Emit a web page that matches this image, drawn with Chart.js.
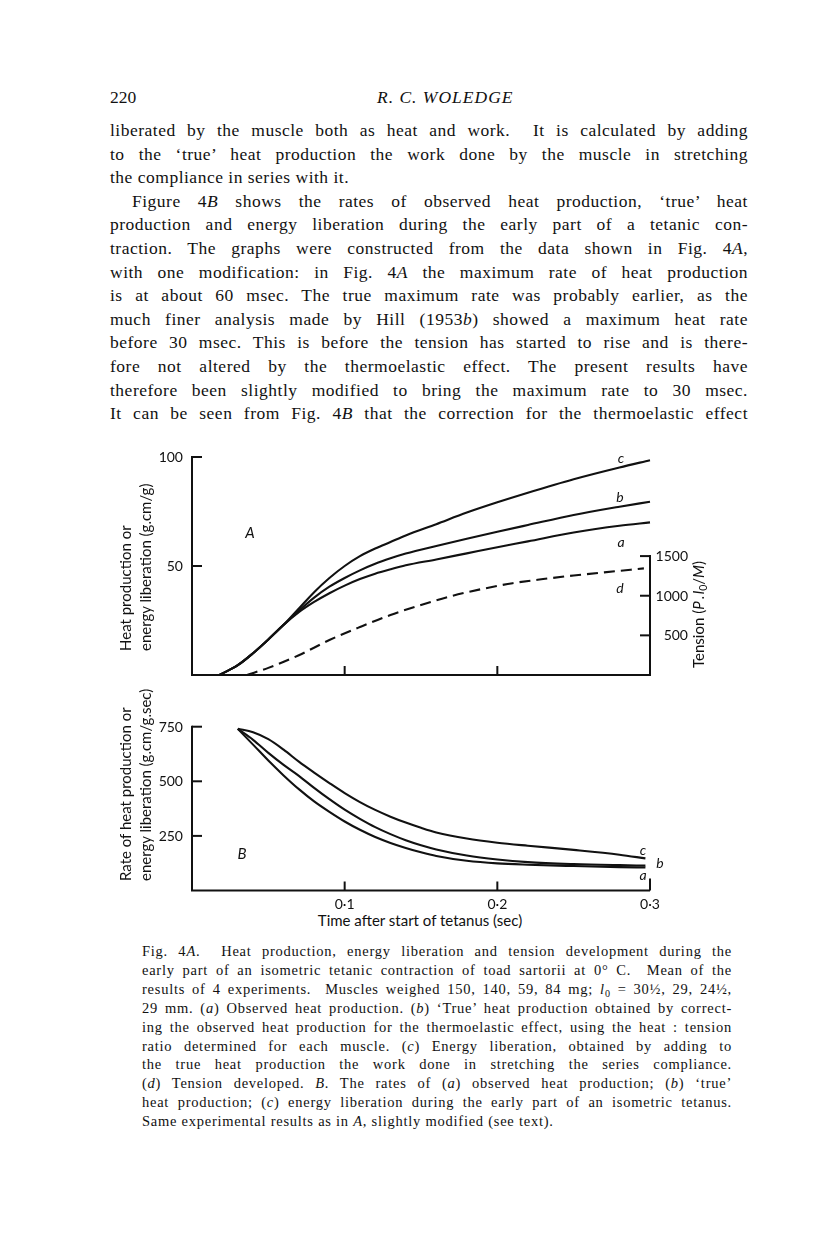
<!DOCTYPE html>
<html><head><meta charset="utf-8">
<script src="https://cdn.jsdelivr.net/npm/chart.js@4.4.0/dist/chart.umd.min.js"></script>
<style>
html,body{margin:0;padding:0;background:#fff;}
body{width:816px;height:1249px;position:relative;overflow:hidden;color:#111;}
.t{position:absolute;font-family:"Liberation Serif",serif;font-size:17.5px;line-height:24px;white-space:nowrap;}
.j{position:absolute;left:110px;width:638px;font-family:"Liberation Serif",serif;font-size:17.5px;letter-spacing:0.5px;line-height:24px;text-align:justify;text-align-last:justify;}
.jl{text-align:left;text-align-last:left;}
.cap{position:absolute;left:142px;width:590px;font-family:"Liberation Serif",serif;font-size:14.5px;letter-spacing:0.75px;line-height:19px;text-align:justify;text-align-last:justify;}
.s{position:absolute;font-family:Lato,"Open Sans",sans-serif;font-size:15px;line-height:18px;white-space:nowrap;}
.n{position:absolute;font-family:Lato,"Open Sans",sans-serif;font-size:14px;line-height:16px;white-space:nowrap;}
.lab{position:absolute;font-family:Lato,"Open Sans",sans-serif;font-size:14px;line-height:16px;font-style:italic;white-space:nowrap;}
.rot{transform:rotate(-90deg);transform-origin:0 0;line-height:20px;}
sub{font-size:0.7em;line-height:0;vertical-align:-0.25em;}
canvas{position:absolute;left:0;}
</style>
</head>
<body>
<div class="t" style="left:110px;top:85px;">220</div>
<div class="t" style="left:377px;top:85px;font-style:italic;letter-spacing:1px;">R. C. WOLEDGE</div>

<div class="j" style="top:118px;">liberated by the muscle both as heat and work.&nbsp; It is calculated by adding</div>
<div class="j" style="top:141.6px;">to the ‘true’ heat production the work done by the muscle in stretching</div>
<div class="j jl" style="top:165.2px;">the compliance in series with it.</div>
<div class="j" style="top:188.8px;text-indent:22px;">Figure 4<i>B</i> shows the rates of observed heat production, ‘true’ heat</div>
<div class="j" style="top:212.4px;">production and energy liberation during the early part of a tetanic con-</div>
<div class="j" style="top:236px;">traction. The graphs were constructed from the data shown in Fig. 4<i>A</i>,</div>
<div class="j" style="top:259.6px;">with one modification: in Fig. 4<i>A</i> the maximum rate of heat production</div>
<div class="j" style="top:283.2px;">is at about 60 msec. The true maximum rate was probably earlier, as the</div>
<div class="j" style="top:306.8px;">much finer analysis made by Hill (1953<i>b</i>) showed a maximum heat rate</div>
<div class="j" style="top:330.4px;">before 30 msec. This is before the tension has started to rise and is there-</div>
<div class="j" style="top:354px;">fore not altered by the thermoelastic effect. The present results have</div>
<div class="j" style="top:377.6px;">therefore been slightly modified to bring the maximum rate to 30 msec.</div>
<div class="j" style="top:401.2px;">It can be seen from Fig. 4<i>B</i> that the correction for the thermoelastic effect</div>

<canvas id="cA" width="816" height="250" style="top:440px;"></canvas>
<canvas id="cB" width="816" height="210" style="top:700px;"></canvas>

<div class="s rot" style="left:115px;top:651px;">Heat production or<br>energy liberation (g.cm/g)</div>
<div class="s rot" style="left:688px;top:668px;">Tension (<i>P</i>&#8201;.&#8201;<i>l</i><sub>0</sub>/<i>M</i>)</div>
<div class="s rot" style="left:115px;top:881px;">Rate of heat production or<br>energy liberation (g.cm/g.sec)</div>
<div class="s" style="left:420px;top:911px;transform:translateX(-50%);">Time after start of tetanus (sec)</div>

<div class="lab" style="left:250px;top:532px;transform:translate(-50%,-50%);font-size:15px;">A</div>
<div class="lab" style="left:621px;top:458px;transform:translate(-50%,-50%);">c</div>
<div class="lab" style="left:620px;top:497px;transform:translate(-50%,-50%);">b</div>
<div class="lab" style="left:621px;top:542px;transform:translate(-50%,-50%);">a</div>
<div class="lab" style="left:620px;top:588px;transform:translate(-50%,-50%);">d</div>
<div class="lab" style="left:242px;top:853px;transform:translate(-50%,-50%);font-size:15px;">B</div>
<div class="lab" style="left:643px;top:850px;transform:translate(-50%,-50%);">c</div>
<div class="lab" style="left:660px;top:863px;transform:translate(-50%,-50%);">b</div>
<div class="lab" style="left:643px;top:875px;transform:translate(-50%,-50%);">a</div>

<div class="cap" style="top:942px;">Fig. 4<i>A</i>.&nbsp; Heat production, energy liberation and tension development during the</div>
<div class="cap" style="top:960.9px;">early part of an isometric tetanic contraction of toad sartorii at 0° C.&nbsp; Mean of the</div>
<div class="cap" style="top:979.8px;">results of 4 experiments.&nbsp; Muscles weighed 150, 140, 59, 84 mg; <i>l</i><sub>0</sub> = 30½, 29, 24½,</div>
<div class="cap" style="top:998.7px;">29 mm. (<i>a</i>) Observed heat production. (<i>b</i>) ‘True’ heat production obtained by correct-</div>
<div class="cap" style="top:1017.6px;">ing the observed heat production for the thermoelastic effect, using the heat : tension</div>
<div class="cap" style="top:1036.5px;">ratio determined for each muscle. (<i>c</i>) Energy liberation, obtained by adding to</div>
<div class="cap" style="top:1055.4px;">the true heat production the work done in stretching the series compliance.</div>
<div class="cap" style="top:1074.3px;">(<i>d</i>) Tension developed. <i>B</i>. The rates of (<i>a</i>) observed heat production; (<i>b</i>) ‘true’</div>
<div class="cap" style="top:1093.2px;">heat production; (<i>c</i>) energy liberation during the early part of an isometric tetanus.</div>
<div class="cap" style="top:1112.1px;text-align:left;text-align-last:left;">Same experimental results as in <i>A</i>, slightly modified (see text).</div>

<script>
// ---- Fig. 4A data (time in sec) ----
const timeA = [0.018,0.03,0.04,0.05,0.06,0.07,0.08,0.09,0.10,0.11,0.12,0.13,0.14,0.16,0.18,0.20,0.22,0.25,0.28,0.30];
const heatObservedA = [0,4.5,10,16.3,23,28.8,33.5,37.5,41,44,46.5,48.5,50.3,53,55.8,58.6,61.3,65.4,68.5,70];
const heatTrueA     = [0,4.5,10,16.3,23,29.5,35.5,40.5,44.5,48,51,53.5,55.7,59.2,62.5,65.7,68.8,73.4,77.2,79.5];
const energyA       = [0,4.5,10,16.3,23,30.5,38,44.5,50,54.5,58,61,64,69.2,74.5,79.2,83.6,89.8,95.2,98.5];
const timeTension = [0.036,0.05,0.07,0.09,0.11,0.13,0.15,0.17,0.19,0.21,0.23,0.25,0.27,0.296];
const tension     = [0,90,250,441,605,757,883,996,1085,1158,1210,1255,1295,1345];
// ---- Fig. 4B data ----
const timeB = [0.03,0.04,0.05,0.06,0.07,0.08,0.09,0.10,0.11,0.12,0.13,0.14,0.15,0.16,0.18,0.20,0.22,0.25,0.28,0.297];
const rateObservedB = [740,668,595,527,464,408,360,316,278,245,218,195,175,158,136,124,118,112,107,105];
const rateTrueB     = [740,690,630,575,525,470,418,370,328,290,258,230,207,188,160,142,130,121,116,114];
const rateEnergyB   = [740,725,693,645,590,540,492,446,405,369,338,311,287,266,238,219,205,186,164,147];
// ---- ticks ----
const ticksAx = [0.1,0.2];
const ticksAy = [50,100];
const ticksAtension = [500,1000,1500];
const ticksBx = [0.1,0.2,0.3];
const tickLabelsBx = ['0·1','0·2','0·3'];
const ticksBy = [250,500,750];

const INK = '#111';
const pts = (xs, ys) => xs.map((x,i)=>({x, y: ys[i]}));
function line(data, extra){
  return Object.assign({data, borderColor:INK, borderWidth:2.1, pointRadius:0, fill:false,
    cubicInterpolationMode:'monotone', clip:false}, extra||{});
}
function place(cls, html, x, y, tx, ty){
  const d=document.createElement('div'); d.className=cls; d.innerHTML=html;
  d.style.left=x+'px'; d.style.top=y+'px'; d.style.transform=`translate(${tx}%,${ty}%)`;
  document.body.appendChild(d);
}
function stroke(ctx, p){ ctx.beginPath(); ctx.moveTo(p[0][0],p[0][1]); for(let i=1;i<p.length;i++) ctx.lineTo(p[i][0],p[i][1]); ctx.stroke(); }

const axesA = {id:'axesA', afterDatasetsDraw(chart){
  const {ctx, scales:{x,y,y2}} = chart;
  ctx.save(); ctx.strokeStyle=INK; ctx.lineWidth=2; ctx.setLineDash([]);
  const x0=x.getPixelForValue(0), x3=x.getPixelForValue(0.3), yb=y.getPixelForValue(0);
  stroke(ctx, [[x0, y.getPixelForValue(100)-1],[x0,yb],[x3,yb],[x3,y2.getPixelForValue(1500)-1]]);
  ticksAy.forEach(v=>{const p=y.getPixelForValue(v); stroke(ctx,[[x0,p],[x0+10,p]]);});
  ticksAx.forEach(v=>{const p=x.getPixelForValue(v); stroke(ctx,[[p,yb],[p,yb-9]]);});
  ticksAtension.forEach(v=>{const p=y2.getPixelForValue(v); stroke(ctx,[[x3-10,p],[x3,p]]);});
  ctx.restore();
}};
const axesB = {id:'axesB', afterDatasetsDraw(chart){
  const {ctx, scales:{x,y}} = chart;
  ctx.save(); ctx.strokeStyle=INK; ctx.lineWidth=2;
  const x0=x.getPixelForValue(0), x3=x.getPixelForValue(0.3), yb=y.getPixelForValue(0);
  stroke(ctx, [[x0, y.getPixelForValue(750)-1],[x0,yb],[x3,yb]]);
  ticksBy.forEach(v=>{const p=y.getPixelForValue(v); stroke(ctx,[[x0,p],[x0+10,p]]);});
  ticksBx.forEach(v=>{const p=x.getPixelForValue(v); stroke(ctx,[[p,yb],[p,yb-(v>=0.3?12:9)]]);});
  ctx.restore();
}};

const common = {responsive:false, animation:false, devicePixelRatio:1,
  plugins:{legend:{display:false}, tooltip:{enabled:false}, title:{display:false}}};

const chartA = new Chart(document.getElementById('cA'), {
  type:'line',
  data:{datasets:[
    line(pts(timeA, heatObservedA)),
    line(pts(timeA, heatTrueA)),
    line(pts(timeA, energyA)),
    line(pts(timeTension, tension), {yAxisID:'y2', borderDash:[11,6]})
  ]},
  options:Object.assign({}, common, {
    layout:{padding:{left:192, right:166, top:17, bottom:15}},
    scales:{
      x:{type:'linear', min:0, max:0.3, display:false},
      y:{type:'linear', min:0, max:100, display:false},
      y2:{type:'linear', min:0, max:2750, display:false}
    }
  }),
  plugins:[axesA]
});

const chartB = new Chart(document.getElementById('cB'), {
  type:'line',
  data:{datasets:[
    line(pts(timeB, rateObservedB)),
    line(pts(timeB, rateTrueB)),
    line(pts(timeB, rateEnergyB))
  ]},
  options:Object.assign({}, common, {
    layout:{padding:{left:192, right:166, top:26.7, bottom:19.5}},
    scales:{
      x:{type:'linear', min:0, max:0.3, display:false},
      y:{type:'linear', min:0, max:750, display:false}
    }
  }),
  plugins:[axesB]
});

// tick labels as text, positioned through the scales
(function(){
  const oA = 440, oB = 700;
  const sA = chartA.scales, sB = chartB.scales;
  ticksAy.forEach(v=>place('n', String(v), sA.x.getPixelForValue(0)-9, oA+sA.y.getPixelForValue(v), -100, -50));
  ticksAtension.forEach(v=>place('n', String(v), sA.x.getPixelForValue(0.3)+38, oA+sA.y2.getPixelForValue(v), -100, -50));
  ticksBy.forEach(v=>place('n', String(v), sB.x.getPixelForValue(0)-9, oB+sB.y.getPixelForValue(v), -100, -50));
  ticksBx.forEach((v,i)=>place('n', tickLabelsBx[i], sB.x.getPixelForValue(v), oB+sB.y.getPixelForValue(0)+5, -50, 0));
})();
</script>
</body></html>
